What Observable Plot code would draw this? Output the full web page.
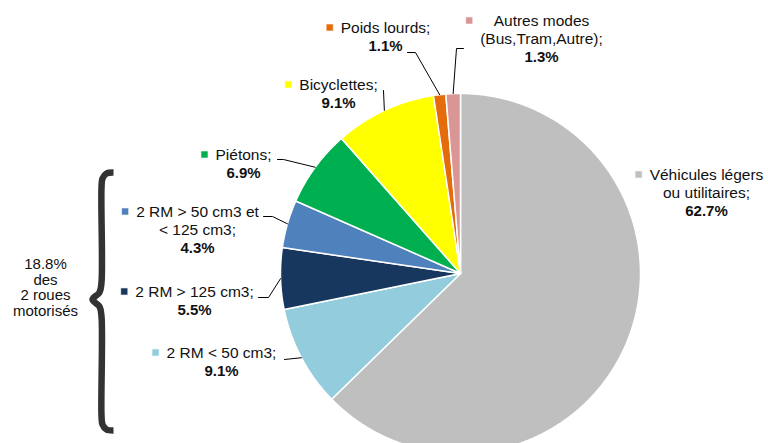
<!DOCTYPE html>
<html><head><meta charset="utf-8">
<script src="https://cdn.jsdelivr.net/npm/d3@7"></script>
<script src="https://cdn.jsdelivr.net/npm/@observablehq/plot@0.6"></script>
<style>
html,body{margin:0;padding:0;background:#fff;overflow:hidden;}
#chart svg{display:block;}
</style>
</head><body><div id="chart"></div>
<script>
// ---- data ----
const categories = [
  "Véhicules légers ou utilitaires",
  "2 RM < 50 cm3",
  "2 RM > 125 cm3",
  "2 RM > 50 cm3 et < 125 cm3",
  "Piétons",
  "Bicyclettes",
  "Poids lourds",
  "Autres modes (Bus,Tram,Autre)"
];
const shares = [62.7, 9.1, 5.5, 4.3, 6.9, 9.1, 1.1, 1.3];
const labelLines = [
  ["Véhicules légers", "ou utilitaires;"],
  ["2 RM < 50 cm3;"],
  ["2 RM > 125 cm3;"],
  ["2 RM > 50 cm3 et", "< 125 cm3;"],
  ["Piétons;"],
  ["Bicyclettes;"],
  ["Poids lourds;"],
  ["Autres modes", "(Bus,Tram,Autre);"]
];
const valueLabels = ["62.7%", "9.1%", "5.5%", "4.3%", "6.9%", "9.1%", "1.1%", "1.3%"];
const colors = ["#BFBFBF", "#93CDDD", "#17375E", "#4F81BD", "#00B050", "#FFFF00", "#E46C0A", "#D99694"];
const groupNote = ["18.8%", "des", "2 roues", "motorisés"];

// ---- layout ----
const W = 768, H = 443;
const CX = 460, CY = 273, R = 180;
const FONT = "'Liberation Sans', Arial, sans-serif";
const FS = 15.5, FSB = 15, LH = 18;
const labelLayout = [
  {x: 706, y: 175, leader: []},
  {x: 221, y: 353, leader: [[284, 359]]},
  {x: 194, y: 292, leader: [[258, 297], [268, 297]]},
  {x: 197, y: 212, leader: [[263, 216], [272, 216]]},
  {x: 243, y: 155, leader: [[277, 159], [283, 159]]},
  {x: 338, y: 85,  leader: [[383, 90]]},
  {x: 385, y: 28,  leader: [[407, 52], [415, 52]]},
  {x: 541, y: 21,  leader: [[463, 48], [456, 48]]}
];
const note = {x: 45, y: 264, lh: 15.5};
const brace = {x: 101, tip: 92, right: 113, top: 172, mid: 299, bottom: 430};

// ---- geometry derived from data ----
const total = d3.sum(shares);
const ends = Array.from(d3.cumsum(shares));
const ang = v => v / total * 2 * Math.PI;
const slices = categories.map((c, i) => ({cat: c, a0: ang(ends[i] - shares[i]), a1: ang(ends[i])}));
const px = a => CX + R * Math.sin(a);
const py = a => CY - R * Math.cos(a);

const pieRows = slices.flatMap(s => {
  const n = Math.max(2, Math.ceil((s.a1 - s.a0) / (Math.PI / 360)));
  const pts = [{cat: s.cat, x: CX, y: CY}];
  for (let k = 0; k <= n; k++) {
    const a = s.a0 + (s.a1 - s.a0) * k / n;
    pts.push({cat: s.cat, x: px(a), y: py(a)});
  }
  pts.push({cat: s.cat, x: CX, y: CY});
  return pts;
});

const canvas = document.createElement("canvas");
const ctx = canvas.getContext("2d");
function textWidth(t, bold) {
  ctx.font = `${bold ? "bold " : ""}${bold ? FSB : FS}px ${FONT}`;
  return ctx.measureText(t).width;
}

const textRows = [];
const markerRows = [];
const leaderRows = [];
categories.forEach((c, i) => {
  const L = labelLayout[i];
  const lines = labelLines[i];
  lines.forEach((t, k) => textRows.push({text: t, x: L.x, y: L.y + k * LH, bold: false}));
  textRows.push({text: valueLabels[i], x: L.x, y: L.y + lines.length * LH, bold: true});
  const maxW = Math.max(...lines.map(t => textWidth(t, false)), textWidth(valueLabels[i], true));
  markerRows.push({cat: c, x: L.x - maxW / 2 - 11, y: L.y - 1});
  if (L.leader.length) {
    const m = (slices[i].a0 + slices[i].a1) / 2;
    [...L.leader, [px(m), py(m)]].forEach(p => leaderRows.push({id: i, x: p[0], y: p[1]}));
  }
});

const noteRows = groupNote.map((t, k) => ({text: t, x: note.x, y: note.y + k * note.lh}));
const b = brace;
const braceRows = [
  [b.right, b.top], [b.right - 7, b.top + 1], [b.x + 1, b.top + 6], [b.x, b.top + 15],
  [b.x, b.mid - 17], [b.x - 2, b.mid - 7], [b.tip, b.mid],
  [b.x - 2, b.mid + 7], [b.x, b.mid + 17],
  [b.x, b.bottom - 15], [b.x + 1, b.bottom - 6], [b.right - 7, b.bottom - 1], [b.right, b.bottom]
].map(p => ({x: p[0], y: p[1]}));

const chart = Plot.plot({
  width: W, height: H,
  margin: 0,
  style: {fontFamily: FONT, background: "#fff"},
  x: {domain: [0, W], range: [0, W], axis: null},
  y: {domain: [0, H], range: [0, H], axis: null},
  color: {domain: categories, range: colors},
  marks: [
    Plot.line(pieRows, {x: "x", y: "y", z: "cat", fill: "cat", stroke: "#fff", strokeWidth: 1.5, curve: "linear"}),
    Plot.line(leaderRows, {x: "x", y: "y", z: "id", stroke: "#000", strokeWidth: 1}),
    Plot.dot(markerRows, {x: "x", y: "y", symbol: "square", r: 4, fill: "cat", stroke: "#fff", strokeWidth: 0.6}),
    Plot.text(textRows.filter(d => !d.bold), {x: "x", y: "y", text: "text", fontSize: FS, fill: "#111", textAnchor: "middle"}),
    Plot.text(textRows.filter(d => d.bold), {x: "x", y: "y", text: "text", fontSize: FSB, fontWeight: "bold", fill: "#111", textAnchor: "middle"}),
    Plot.text(noteRows, {x: "x", y: "y", text: "text", fontSize: 15, fill: "#111", textAnchor: "middle"}),
    Plot.line(braceRows, {x: "x", y: "y", stroke: "#333", strokeWidth: 6.5, curve: "catmull-rom", strokeLinecap: "butt", strokeLinejoin: "round"})
  ]
});
document.getElementById("chart").appendChild(chart);
</script>
</body></html>
